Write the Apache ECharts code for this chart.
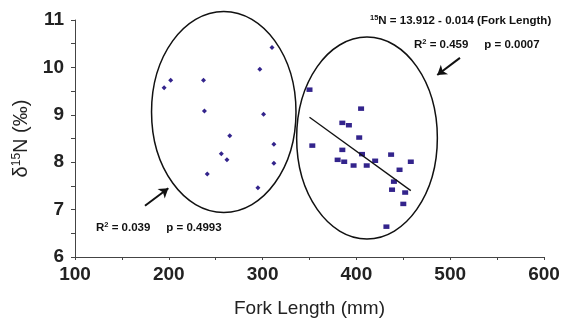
<!DOCTYPE html>
<html>
<head>
<meta charset="utf-8">
<script src="https://cdn.jsdelivr.net/npm/echarts@6/dist/echarts.min.js"></script>
<style>
  html, body { margin: 0; padding: 0; background: #fff; }
  #chart { width: 564px; height: 324px; }
</style>
</head>
<body>
<div id="chart"></div>
<script>
// small fish (left cluster): [fork length, d15N]
const smallFish = [
  [310, 10.42], [297, 9.96], [202, 9.73], [237, 9.73], [195, 9.57],
  [238, 9.08], [301, 9.01], [265, 8.56], [312, 8.38], [256, 8.18],
  [262, 8.05], [312, 7.98], [241, 7.75], [295, 7.46]
];
// large fish (right cluster)
const largeFish = [
  [350, 9.53], [405, 9.13], [385, 8.83], [392, 8.78], [403, 8.52],
  [353, 8.35], [385, 8.26], [406, 8.17], [437, 8.16], [380, 8.05],
  [387, 8.01], [420, 8.03], [458, 8.01], [397, 7.93], [411, 7.93],
  [446, 7.84], [440, 7.59], [438, 7.42], [452, 7.36], [450, 7.12],
  [432, 6.64]
];
// regression line ends
const fitLine = [[350, 8.95], [458, 7.40]];
// ellipses: [cx, cy, rx, ry] in axis units
const ellipses = [[258.6, 9.06, 77, 2.12], [411.3, 8.51, 75, 2.13]];
// arrows: [from, to]
const arrows = [
  [[174.6, 7.08], [199.5, 7.45]],
  [[510.4, 10.20], [486.2, 9.84]]
];

const FONT = "'Liberation Sans', Arial, sans-serif";
const dotColor = '#33248c';
const axisColor = '#444';

const chart = echarts.init(document.getElementById('chart'));

const option = {
  backgroundColor: '#fff',
  animation: false,
  grid: { left: 75, right: 20, top: 20, bottom: 67 },
  xAxis: {
    type: 'value',
    min: 100, max: 600, interval: 50,
    name: 'Fork Length (mm)',
    nameLocation: 'middle',
    nameGap: 42,
    nameTextStyle: { fontFamily: FONT, fontSize: 19, color: '#222' },
    axisLine: { lineStyle: { color: axisColor, width: 1 } },
    axisTick: { length: 3, lineStyle: { color: axisColor } },
    splitLine: { show: false },
    axisLabel: {
      fontFamily: FONT, fontSize: 19, fontWeight: 'bold', color: '#222', margin: 8,
      formatter: v => (v % 100 === 0 ? String(v) : '')
    }
  },
  yAxis: {
    type: 'value',
    min: 6, max: 11, interval: 0.5,
    name: '{d|δ}{s|15}{n|N (‰)}',
    nameLocation: 'middle',
    nameRotate: 90,
    nameGap: 40,
    nameTextStyle: {
      fontFamily: FONT, color: '#222',
      rich: {
        d: { fontFamily: FONT, fontSize: 20, color: '#222', lineHeight: 22 },
        s: { fontFamily: FONT, fontSize: 12, color: '#222', lineHeight: 22, verticalAlign: 'top' },
        n: { fontFamily: FONT, fontSize: 20, color: '#222', lineHeight: 22 }
      }
    },
    axisLine: { show: true, lineStyle: { color: axisColor, width: 1 } },
    axisTick: { show: true, length: 4, lineStyle: { color: axisColor } },
    splitLine: { show: false },
    axisLabel: {
      fontFamily: FONT, fontSize: 19, fontWeight: 'bold', color: '#222', margin: 11,
      formatter: v => (Number.isInteger(v) ? String(v) : '')
    }
  },
  series: [
    {
      type: 'custom',
      data: ellipses,
      renderItem: (params, api) => {
        const c = api.coord([api.value(0), api.value(1)]);
        const s = api.size([api.value(2), api.value(3)]);
        return {
          type: 'ellipse',
          shape: { cx: c[0], cy: c[1], rx: s[0], ry: s[1] },
          style: { fill: 'none', stroke: '#111', lineWidth: 1.5 }
        };
      },
      silent: true
    },
    {
      type: 'scatter',
      data: smallFish,
      symbol: 'diamond',
      symbolSize: 5,
      itemStyle: { color: dotColor, opacity: 1 }
    },
    {
      type: 'scatter',
      data: largeFish,
      symbol: 'rect',
      symbolSize: [6, 4.5],
      itemStyle: { color: dotColor, opacity: 1 }
    },
    {
      type: 'line',
      data: fitLine,
      showSymbol: false,
      lineStyle: { color: '#111', width: 1.3 }
    },
    {
      type: 'lines',
      coordinateSystem: 'cartesian2d',
      data: arrows.map(a => ({ coords: a })),
      symbol: ['none', 'arrow'],
      symbolSize: 9,
      lineStyle: { color: '#111', width: 2, opacity: 1 }
    }
  ],
  graphic: [
    {
      type: 'text', left: 370, top: 14,
      style: {
        text: '{s|15}{b|N = 13.912 - 0.014 (Fork Length)}',
        rich: {
          s: { fontFamily: FONT, fontSize: 7.5, fontWeight: 'bold', fill: '#111', verticalAlign: 'top', lineHeight: 13 },
          b: { fontFamily: FONT, fontSize: 11.5, fontWeight: 'bold', fill: '#111', lineHeight: 13 }
        }
      }
    },
    {
      type: 'text', left: 414, top: 38,
      style: {
        text: '{b|R}{s|2}{b| = 0.459     p = 0.0007}',
        rich: {
          s: { fontFamily: FONT, fontSize: 7.5, fontWeight: 'bold', fill: '#111', verticalAlign: 'top', lineHeight: 13 },
          b: { fontFamily: FONT, fontSize: 11.5, fontWeight: 'bold', fill: '#111', lineHeight: 13 }
        }
      }
    },
    {
      type: 'text', left: 96, top: 221,
      style: {
        text: '{b|R}{s|2}{b| = 0.039     p = 0.4993}',
        rich: {
          s: { fontFamily: FONT, fontSize: 7.5, fontWeight: 'bold', fill: '#111', verticalAlign: 'top', lineHeight: 13 },
          b: { fontFamily: FONT, fontSize: 11.5, fontWeight: 'bold', fill: '#111', lineHeight: 13 }
        }
      }
    }
  ]
};

chart.setOption(option);
</script>
</body>
</html>
